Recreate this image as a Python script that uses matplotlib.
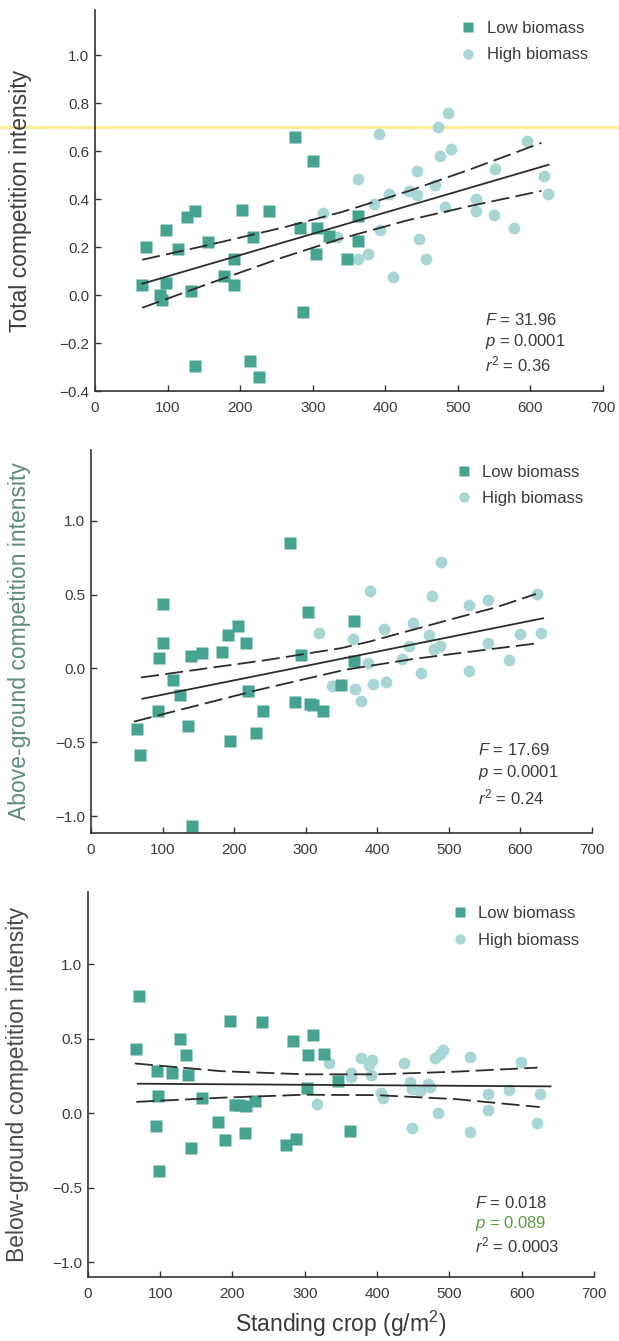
import matplotlib
matplotlib.use("Agg")
import matplotlib.pyplot as plt
from matplotlib.lines import Line2D

plt.rcParams['font.family'] = ['Liberation Sans', 'DejaVu Sans']
plt.rcParams['mathtext.fontset'] = 'custom'
plt.rcParams['mathtext.rm'] = 'Liberation Sans'
plt.rcParams['mathtext.it'] = 'Liberation Sans:italic'

# ---- dados ----
# painel 1: competicao total
tot_low_x = [65, 70, 98, 98, 89, 92, 115, 127, 138, 132, 138, 156, 178, 191, 192,
             203, 217, 214, 226, 240, 275, 283, 287, 300, 306, 305, 323, 347, 362, 362]
tot_low_y = [0.04, 0.20, 0.27, 0.05, 0.00, -0.02, 0.19, 0.325, 0.35, 0.015, -0.295, 0.22, 0.08, 0.04, 0.15,
             0.355, 0.24, -0.275, -0.34, 0.35, 0.66, 0.28, -0.07, 0.56, 0.28, 0.17, 0.245, 0.15, 0.33, 0.225]
tot_high_x = [314, 333, 363, 363, 376, 385, 391, 392, 405, 410, 433, 443, 444, 447, 456,
              469, 472, 476, 482, 487, 490, 525, 525, 551, 550, 578, 595, 619, 624]
tot_high_y = [0.34, 0.24, 0.485, 0.15, 0.17, 0.38, 0.67, 0.27, 0.42, 0.075, 0.435, 0.515, 0.415, 0.235, 0.15,
              0.46, 0.70, 0.58, 0.365, 0.76, 0.61, 0.40, 0.35, 0.525, 0.335, 0.28, 0.64, 0.495, 0.42]
tot_fit_x = [65, 625]
tot_fit_y = [0.047, 0.543]
tot_band_x = [65, 160, 260, 340, 430, 520, 615]
tot_up_y = [0.147, 0.211, 0.282, 0.346, 0.431, 0.527, 0.634]
tot_lo_y = [-0.053, 0.051, 0.158, 0.236, 0.311, 0.373, 0.434]

# painel 2: competicao acima do solo
abv_low_x = [65, 69, 94, 95, 100, 101, 115, 125, 135, 140, 141, 155, 183, 192, 195,
             205, 217, 220, 230, 241, 278, 285, 293, 303, 306, 311, 324, 350, 368, 368]
abv_low_y = [-0.41, -0.585, -0.29, 0.07, 0.175, 0.435, -0.08, -0.18, -0.39, 0.085, -1.07, 0.105, 0.11, 0.225, -0.49,
             0.29, 0.175, -0.15, -0.44, -0.285, 0.85, -0.225, 0.09, 0.38, -0.24, -0.25, -0.29, -0.11, 0.32, 0.05]
abv_high_x = [319, 337, 366, 369, 378, 387, 390, 394, 410, 412, 435, 444, 450, 461, 473,
              477, 480, 488, 489, 528, 528, 555, 555, 584, 599, 624, 629]
abv_high_y = [0.24, -0.12, 0.20, -0.14, -0.22, 0.035, 0.525, -0.105, 0.27, -0.09, 0.065, 0.155, 0.31, -0.03, 0.23,
              0.49, 0.13, 0.15, 0.72, 0.43, -0.02, 0.465, 0.175, 0.06, 0.235, 0.505, 0.24]
abv_fit_x = [72, 632]
abv_fit_y = [-0.205, 0.34]
abv_up_x = [70, 248, 350, 390, 501, 566, 622]
abv_up_y = [-0.061, 0.059, 0.138, 0.183, 0.33, 0.414, 0.505]
abv_lo_x = [60, 234, 355, 450, 552, 620]
abv_lo_y = [-0.36, -0.145, -0.009, 0.064, 0.127, 0.168]

# painel 3: competicao abaixo do solo
blw_low_x = [67, 71, 95, 97, 94, 98, 117, 128, 136, 138, 142, 158, 180, 190, 197,
             203, 209, 217, 219, 231, 241, 274, 284, 288, 304, 303, 311, 326, 346, 362]
blw_low_y = [0.435, 0.79, 0.285, 0.115, -0.085, -0.39, 0.27, 0.50, 0.39, 0.255, -0.23, 0.10, -0.06, -0.18, 0.62,
             0.055, 0.055, -0.135, 0.05, 0.085, 0.615, -0.215, 0.485, -0.17, 0.39, 0.17, 0.525, 0.40, 0.22, -0.12]
blw_high_x = [317, 334, 364, 364, 378, 389, 393, 392, 406, 408, 437, 445, 449, 449, 460,
              471, 473, 480, 487, 491, 484, 528, 528, 553, 553, 582, 599, 621, 626]
blw_high_y = [0.065, 0.34, 0.27, 0.245, 0.37, 0.325, 0.355, 0.255, 0.135, 0.10, 0.335, 0.21, -0.10, 0.165, 0.15,
              0.195, 0.18, 0.37, 0.40, 0.425, 0.005, 0.38, -0.125, 0.13, 0.02, 0.16, 0.345, -0.065, 0.13]
blw_fit_x = [69, 640]
blw_fit_y = [0.199, 0.181]
blw_up_x = [65, 185, 300, 400, 510, 622]
blw_up_y = [0.335, 0.283, 0.262, 0.262, 0.280, 0.307]
blw_lo_x = [67, 185, 300, 400, 510, 625]
blw_lo_y = [0.077, 0.105, 0.125, 0.122, 0.095, 0.042]

cor_low = '#47a391'
cor_high = '#a8d6d6'
cor_txt = '#3a3a3a'

paineis = [
    dict(pos=[0.1535, 0.7084, 0.8207, 0.2841], ylim=(-0.4, 1.1875),
         yticks=[-0.4, -0.2, 0.0, 0.2, 0.4, 0.6, 0.8, 1.0],
         low=(tot_low_x, tot_low_y), high=(tot_high_x, tot_high_y),
         fit=(tot_fit_x, tot_fit_y), up=(tot_band_x, tot_up_y), lo=(tot_band_x, tot_lo_y),
         ylabel='Total competition intensity', ylab_cor='#3f3f3f', ylab_x=-0.124,
         leg=(0.7185, 0.972), stats=(0.768, [0.186, 0.131, 0.071]),
         txt=['$F$ = 31.96', '$p$ = 0.0001', '$r^2$ = 0.36'],
         txt_cor=[cor_txt, cor_txt, cor_txt]),
    dict(pos=[0.147, 0.3788, 0.809, 0.2856], ylim=(-1.115, 1.48),
         yticks=[-1.0, -0.5, 0.0, 0.5, 1.0],
         low=(abv_low_x, abv_low_y), high=(abv_high_x, abv_high_y),
         fit=(abv_fit_x, abv_fit_y), up=(abv_up_x, abv_up_y), lo=(abv_lo_x, abv_lo_y),
         ylabel='Above-ground competition intensity', ylab_cor='#5e8c78', ylab_x=-0.120,
         leg=(0.728, 0.962), stats=(0.772, [0.217, 0.159, 0.094]),
         txt=['$F$ = 17.69', '$p$ = 0.0001', '$r^2$ = 0.24'],
         txt_cor=[cor_txt, cor_txt, cor_txt]),
    dict(pos=[0.142, 0.0477, 0.8175, 0.287], ylim=(-1.10, 1.486),
         yticks=[-1.0, -0.5, 0.0, 0.5, 1.0],
         low=(blw_low_x, blw_low_y), high=(blw_high_x, blw_high_y),
         fit=(blw_fit_x, blw_fit_y), up=(blw_up_x, blw_up_y), lo=(blw_lo_x, blw_lo_y),
         ylabel='Below-ground competition intensity', ylab_cor='#4a4a4a', ylab_x=-0.117,
         leg=(0.719, 0.964), stats=(0.765, [0.192, 0.140, 0.083]),
         txt=['$F$ = 0.018', '$p$ = 0.089', '$r^2$ = 0.0003'],
         txt_cor=[cor_txt, '#5a9a3c', cor_txt]),
]

fig = plt.figure(figsize=(6.19, 13.41), dpi=100)

# risco amarelo do scan atravessando o primeiro painel
fig.add_artist(Line2D([0, 1], [0.9053, 0.9053], transform=fig.transFigure,
                      color='#f8ec8a', lw=2.4, alpha=0.85, zorder=-1))

for i, p in enumerate(paineis):
    ax = fig.add_axes(p['pos'])
    ax.set_facecolor('none')

    ax.plot(p['fit'][0], p['fit'][1], color='#2b2b2b', lw=1.3, zorder=3)
    ax.plot(p['up'][0], p['up'][1], color='#2b2b2b', lw=1.3, dashes=(10, 3.5), zorder=3)
    ax.plot(p['lo'][0], p['lo'][1], color='#2b2b2b', lw=1.3, dashes=(10, 3.5), zorder=3)

    ax.plot(p['high'][0], p['high'][1], 'o', ms=8.5, color=cor_high, mec='none', zorder=2)
    ax.plot(p['low'][0], p['low'][1], 's', ms=8, color=cor_low, mec='none', zorder=2)

    ax.set_xlim(0, 700)
    ax.set_ylim(*p['ylim'])
    ax.set_xticks(range(0, 701, 100))
    ax.set_yticks(p['yticks'])
    ax.set_yticklabels([f'{v:.1f}'.replace('-', '\u2212') for v in p['yticks']])

    for s in ['top', 'right']:
        ax.spines[s].set_visible(False)
    for s in ['left', 'bottom']:
        ax.spines[s].set_color('#333333')
        ax.spines[s].set_linewidth(1.2)
    ax.tick_params(direction='in', length=4, width=1, colors='#333333',
                   labelsize=11, labelcolor=cor_txt)
    ax.tick_params(axis='x', pad=7)
    ax.tick_params(axis='y', pad=4)

    ax.set_ylabel(p['ylabel'], fontsize=16.5, color=p['ylab_cor'])
    ax.yaxis.set_label_coords(p['ylab_x'], 0.5)

    handles = [Line2D([], [], marker='s', ls='none', ms=7, color=cor_low, mec='none'),
               Line2D([], [], marker='o', ls='none', ms=7.5, color=cor_high, mec='none')]
    leg = ax.legend(handles, ['Low biomass', 'High biomass'], loc='upper left',
                    bbox_to_anchor=p['leg'], frameon=False, borderpad=0, borderaxespad=0,
                    handlelength=1.0, handletextpad=0.6, labelspacing=0.7, fontsize=12)
    for t in leg.get_texts():
        t.set_color(cor_txt)

    sx, sys_ = p['stats']
    for txt, yy, c in zip(p['txt'], sys_, p['txt_cor']):
        ax.text(sx, yy, txt, transform=ax.transAxes, ha='left', va='center',
                fontsize=12, color=c)

    if i == 2:
        ax.set_xlabel('Standing crop (g/m$^2$)', fontsize=16.5, color=cor_txt, labelpad=6)

fig.savefig('out.png', dpi=100)
